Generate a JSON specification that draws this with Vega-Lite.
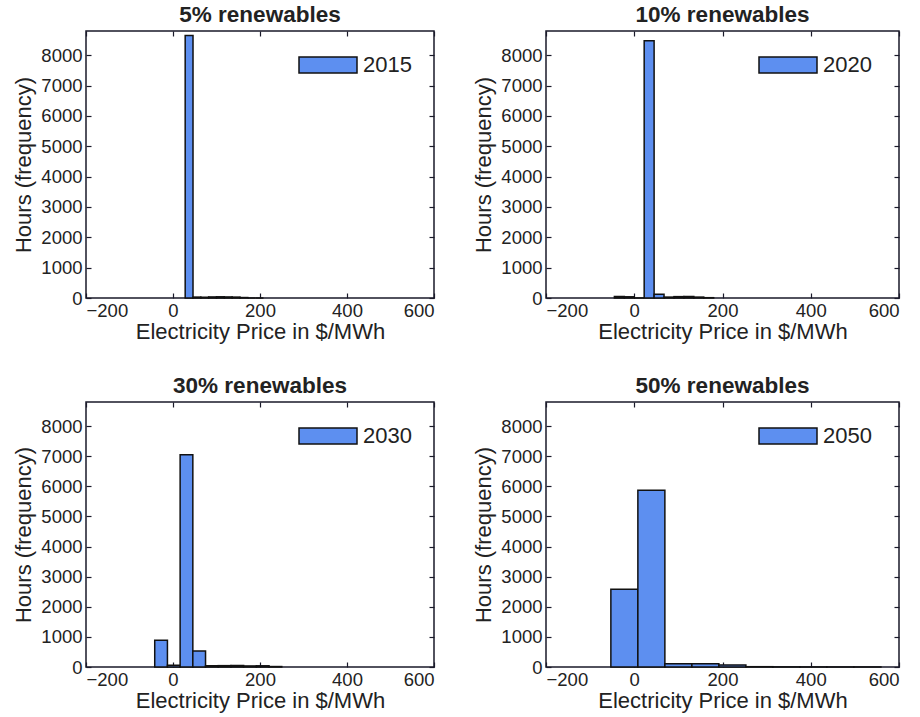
{
  "$schema": "https://vega.github.io/schema/vega-lite/v6.json",
  "padding": {"left": 12, "top": 3, "right": 0, "bottom": 0},
  "background": "white",
  "datasets": {
    "bins": [
      {"panel": 1, "year": "2015", "lo": 28, "hi": 46, "hours": 8650},
      {"panel": 1, "year": "2015", "lo": 46, "hi": 64, "hours": 30},
      {"panel": 1, "year": "2015", "lo": 64, "hi": 82, "hours": 25},
      {"panel": 1, "year": "2015", "lo": 82, "hi": 100, "hours": 35},
      {"panel": 1, "year": "2015", "lo": 100, "hi": 118, "hours": 40},
      {"panel": 1, "year": "2015", "lo": 118, "hi": 136, "hours": 35},
      {"panel": 1, "year": "2015", "lo": 136, "hi": 154, "hours": 30},
      {"panel": 1, "year": "2015", "lo": 154, "hi": 172, "hours": 15},
      {"panel": 1, "year": "2015", "lo": 172, "hi": 190, "hours": 0},
      {"panel": 1, "year": "2015", "lo": 190, "hi": 208, "hours": 0},
      {"panel": 2, "year": "2020", "lo": -45, "hi": -22.5, "hours": 50},
      {"panel": 2, "year": "2020", "lo": -22.5, "hi": 0, "hours": 40},
      {"panel": 2, "year": "2020", "lo": 0, "hi": 22.5, "hours": 0},
      {"panel": 2, "year": "2020", "lo": 22.5, "hi": 45, "hours": 8480},
      {"panel": 2, "year": "2020", "lo": 45, "hi": 67.5, "hours": 120},
      {"panel": 2, "year": "2020", "lo": 67.5, "hi": 90, "hours": 30},
      {"panel": 2, "year": "2020", "lo": 90, "hi": 112.5, "hours": 45},
      {"panel": 2, "year": "2020", "lo": 112.5, "hi": 135, "hours": 50},
      {"panel": 2, "year": "2020", "lo": 135, "hi": 157.5, "hours": 30},
      {"panel": 2, "year": "2020", "lo": 157.5, "hi": 180, "hours": 10},
      {"panel": 3, "year": "2030", "lo": -42, "hi": -12.8, "hours": 890},
      {"panel": 3, "year": "2030", "lo": -12.8, "hi": 16.4, "hours": 60},
      {"panel": 3, "year": "2030", "lo": 16.4, "hi": 45.6, "hours": 7050},
      {"panel": 3, "year": "2030", "lo": 45.6, "hi": 74.8, "hours": 530},
      {"panel": 3, "year": "2030", "lo": 74.8, "hi": 104, "hours": 40},
      {"panel": 3, "year": "2030", "lo": 104, "hi": 133.2, "hours": 45},
      {"panel": 3, "year": "2030", "lo": 133.2, "hi": 162.4, "hours": 50},
      {"panel": 3, "year": "2030", "lo": 162.4, "hi": 191.6, "hours": 35},
      {"panel": 3, "year": "2030", "lo": 191.6, "hi": 220.8, "hours": 40},
      {"panel": 3, "year": "2030", "lo": 220.8, "hi": 250, "hours": 15},
      {"panel": 4, "year": "2050", "lo": -53, "hi": 8.2, "hours": 2580},
      {"panel": 4, "year": "2050", "lo": 8.2, "hi": 69.4, "hours": 5870},
      {"panel": 4, "year": "2050", "lo": 69.4, "hi": 130.6, "hours": 110},
      {"panel": 4, "year": "2050", "lo": 130.6, "hi": 191.8, "hours": 110},
      {"panel": 4, "year": "2050", "lo": 191.8, "hi": 253, "hours": 70},
      {"panel": 4, "year": "2050", "lo": 253, "hi": 314.2, "hours": 10},
      {"panel": 4, "year": "2050", "lo": 314.2, "hi": 375.4, "hours": 5},
      {"panel": 4, "year": "2050", "lo": 375.4, "hi": 436.6, "hours": 3},
      {"panel": 4, "year": "2050", "lo": 436.6, "hi": 497.8, "hours": 2},
      {"panel": 4, "year": "2050", "lo": 497.8, "hi": 559, "hours": 2}
    ]
  },
  "data": {"name": "bins"},
  "config": {
    "font": "Liberation Sans",
    "view": {"stroke": "#1a1a2a", "strokeWidth": 1.5},
    "title": {"fontSize": 22.5, "fontWeight": "bold", "color": "#222", "offset": 4, "anchor": "middle"},
    "axis": {
      "domain": false,
      "grid": false,
      "tickSize": -5,
      "tickColor": "#1a1a2a",
      "tickWidth": 1.2,
      "format": "d",
      "labelFont": "Liberation Sans",
      "labelFontSize": 18.5,
      "labelColor": "#222",
      "titleFont": "Liberation Sans",
      "titleFontSize": 22,
      "titleFontWeight": "normal",
      "titleColor": "#222"
    },
    "legend": {
      "orient": "none",
      "legendX": 212,
      "legendY": 4,
      "title": null,
      "symbolType": "M-1,-0.28H1V0.28H-1Z",
      "symbolSize": 3364,
      "symbolStrokeColor": "#111",
      "symbolStrokeWidth": 1.5,
      "symbolOpacity": 1,
      "labelFontSize": 22,
      "labelColor": "#222",
      "labelOffset": 5,
      "padding": 0
    }
  },
  "vconcat": [
    {
      "hconcat": [
        {
          "title": "5% renewables",
          "width": 348, "height": 267,
          "transform": [{"filter": "datum.panel == 1"}],
          "layer": [
            {
              "mark": {"type": "bar", "stroke": "#111", "strokeWidth": 1.5, "opacity": 1},
              "encoding": {
                "x": {"field": "lo", "type": "quantitative", "scale": {"domain": [-200, 600], "nice": false, "zero": false}, "axis": {"orient": "bottom", "values": [-200, 0, 200, 400, 600], "labelPadding": 8, "titlePadding": 2}, "title": "Electricity Price in $/MWh"},
                "x2": {"field": "hi"},
                "y": {"field": "hours", "type": "quantitative", "scale": {"domain": [0, 8800], "nice": false}, "axis": {"orient": "left", "values": [0, 1000, 2000, 3000, 4000, 5000, 6000, 7000, 8000], "labelPadding": 9, "titlePadding": 5}, "title": "Hours (frequency)"},
                "y2": {"datum": 0},
                "color": {"field": "year", "type": "nominal", "scale": {"range": ["#5d8ff0"]}}
              }
            },
            {
              "mark": {"type": "bar", "opacity": 0},
              "encoding": {
                "x": {"field": "lo", "type": "quantitative", "axis": {"orient": "top", "values": [-200, 0, 200, 400, 600], "labels": false, "title": null}},
                "x2": {"field": "hi"},
                "y": {"field": "hours", "type": "quantitative", "axis": {"orient": "right", "values": [0, 1000, 2000, 3000, 4000, 5000, 6000, 7000, 8000], "labels": false, "title": null}},
                "y2": {"datum": 0}
              }
            }
          ],
          "resolve": {"axis": {"x": "independent", "y": "independent"}}
        },
        {
          "title": "10% renewables",
          "width": 353, "height": 267,
          "transform": [{"filter": "datum.panel == 2"}],
          "layer": [
            {
              "mark": {"type": "bar", "stroke": "#111", "strokeWidth": 1.5, "opacity": 1},
              "encoding": {
                "x": {"field": "lo", "type": "quantitative", "scale": {"domain": [-200, 600], "nice": false, "zero": false}, "axis": {"orient": "bottom", "values": [-200, 0, 200, 400, 600], "labelPadding": 8, "titlePadding": 2}, "title": "Electricity Price in $/MWh"},
                "x2": {"field": "hi"},
                "y": {"field": "hours", "type": "quantitative", "scale": {"domain": [0, 8800], "nice": false}, "axis": {"orient": "left", "values": [0, 1000, 2000, 3000, 4000, 5000, 6000, 7000, 8000], "labelPadding": 9, "titlePadding": 5}, "title": "Hours (frequency)"},
                "y2": {"datum": 0},
                "color": {"field": "year", "type": "nominal", "scale": {"range": ["#5d8ff0"]}}
              }
            },
            {
              "mark": {"type": "bar", "opacity": 0},
              "encoding": {
                "x": {"field": "lo", "type": "quantitative", "axis": {"orient": "top", "values": [-200, 0, 200, 400, 600], "labels": false, "title": null}},
                "x2": {"field": "hi"},
                "y": {"field": "hours", "type": "quantitative", "axis": {"orient": "right", "values": [0, 1000, 2000, 3000, 4000, 5000, 6000, 7000, 8000], "labels": false, "title": null}},
                "y2": {"datum": 0}
              }
            }
          ],
          "resolve": {"axis": {"x": "independent", "y": "independent"}}
        }
      ],
      "spacing": 36,
      "resolve": {"scale": {"color": "independent"}, "legend": {"color": "independent"}}
    },
    {
      "hconcat": [
        {
          "title": "30% renewables",
          "width": 348, "height": 265,
          "transform": [{"filter": "datum.panel == 3"}],
          "layer": [
            {
              "mark": {"type": "bar", "stroke": "#111", "strokeWidth": 1.5, "opacity": 1},
              "encoding": {
                "x": {"field": "lo", "type": "quantitative", "scale": {"domain": [-200, 600], "nice": false, "zero": false}, "axis": {"orient": "bottom", "values": [-200, 0, 200, 400, 600], "labelPadding": 8, "titlePadding": 2}, "title": "Electricity Price in $/MWh"},
                "x2": {"field": "hi"},
                "y": {"field": "hours", "type": "quantitative", "scale": {"domain": [0, 8800], "nice": false}, "axis": {"orient": "left", "values": [0, 1000, 2000, 3000, 4000, 5000, 6000, 7000, 8000], "labelPadding": 9, "titlePadding": 5}, "title": "Hours (frequency)"},
                "y2": {"datum": 0},
                "color": {"field": "year", "type": "nominal", "scale": {"range": ["#5d8ff0"]}}
              }
            },
            {
              "mark": {"type": "bar", "opacity": 0},
              "encoding": {
                "x": {"field": "lo", "type": "quantitative", "axis": {"orient": "top", "values": [-200, 0, 200, 400, 600], "labels": false, "title": null}},
                "x2": {"field": "hi"},
                "y": {"field": "hours", "type": "quantitative", "axis": {"orient": "right", "values": [0, 1000, 2000, 3000, 4000, 5000, 6000, 7000, 8000], "labels": false, "title": null}},
                "y2": {"datum": 0}
              }
            }
          ],
          "resolve": {"axis": {"x": "independent", "y": "independent"}}
        },
        {
          "title": "50% renewables",
          "width": 353, "height": 265,
          "transform": [{"filter": "datum.panel == 4"}],
          "layer": [
            {
              "mark": {"type": "bar", "stroke": "#111", "strokeWidth": 1.5, "opacity": 1},
              "encoding": {
                "x": {"field": "lo", "type": "quantitative", "scale": {"domain": [-200, 600], "nice": false, "zero": false}, "axis": {"orient": "bottom", "values": [-200, 0, 200, 400, 600], "labelPadding": 8, "titlePadding": 2}, "title": "Electricity Price in $/MWh"},
                "x2": {"field": "hi"},
                "y": {"field": "hours", "type": "quantitative", "scale": {"domain": [0, 8800], "nice": false}, "axis": {"orient": "left", "values": [0, 1000, 2000, 3000, 4000, 5000, 6000, 7000, 8000], "labelPadding": 9, "titlePadding": 5}, "title": "Hours (frequency)"},
                "y2": {"datum": 0},
                "color": {"field": "year", "type": "nominal", "scale": {"range": ["#5d8ff0"]}}
              }
            },
            {
              "mark": {"type": "bar", "opacity": 0},
              "encoding": {
                "x": {"field": "lo", "type": "quantitative", "axis": {"orient": "top", "values": [-200, 0, 200, 400, 600], "labels": false, "title": null}},
                "x2": {"field": "hi"},
                "y": {"field": "hours", "type": "quantitative", "axis": {"orient": "right", "values": [0, 1000, 2000, 3000, 4000, 5000, 6000, 7000, 8000], "labels": false, "title": null}},
                "y2": {"datum": 0}
              }
            }
          ],
          "resolve": {"axis": {"x": "independent", "y": "independent"}}
        }
      ],
      "spacing": 36,
      "resolve": {"scale": {"color": "independent"}, "legend": {"color": "independent"}}
    }
  ],
  "spacing": 30,
  "resolve": {"scale": {"color": "independent"}, "legend": {"color": "independent"}}
}
